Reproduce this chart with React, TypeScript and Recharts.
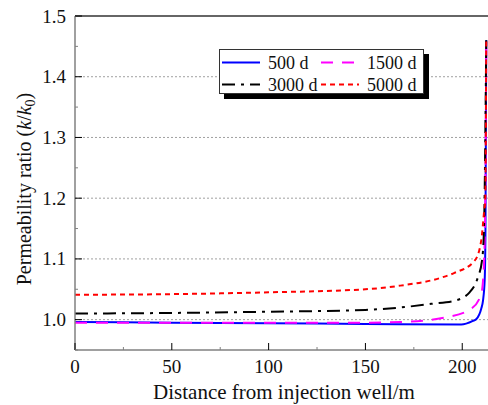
import React from "react";
import { LineChart, Line, XAxis, YAxis, ReferenceLine, Legend, Label } from "recharts";

// distance from injection well (m) -> k/k0
const d500 = [
  { x: 0, y: 0.996 }, { x: 50, y: 0.995 }, { x: 100, y: 0.994 }, { x: 150, y: 0.993 },
  { x: 199.5, y: 0.992 }, { x: 205.5, y: 0.998 }, { x: 207.3, y: 1.001 }, { x: 209.8, y: 1.018 },
  { x: 210.7, y: 1.031 }, { x: 211.6, y: 1.066 }, { x: 212.0, y: 1.15 }, { x: 212.4, y: 1.46 },
];
const d1500 = [
  { x: 0, y: 0.995 }, { x: 50, y: 0.995 }, { x: 100, y: 0.995 }, { x: 150, y: 0.995 },
  { x: 168, y: 0.996 }, { x: 192, y: 1.004 }, { x: 204.7, y: 1.018 }, { x: 209.8, y: 1.042 },
  { x: 211.2, y: 1.09 }, { x: 211.9, y: 1.2 }, { x: 212.4, y: 1.46 },
];
const d3000 = [
  { x: 0, y: 1.01 }, { x: 50, y: 1.011 }, { x: 100, y: 1.013 }, { x: 150, y: 1.016 },
  { x: 168, y: 1.02 }, { x: 184, y: 1.026 }, { x: 196, y: 1.031 }, { x: 203.8, y: 1.045 },
  { x: 208.1, y: 1.07 }, { x: 210.2, y: 1.097 }, { x: 211.2, y: 1.147 }, { x: 212.4, y: 1.46 },
];
const d5000 = [
  { x: 0, y: 1.041 }, { x: 50, y: 1.042 }, { x: 100, y: 1.045 }, { x: 150, y: 1.05 },
  { x: 168, y: 1.056 }, { x: 189, y: 1.069 }, { x: 196, y: 1.077 }, { x: 206.4, y: 1.097 },
  { x: 209.8, y: 1.13 }, { x: 211.2, y: 1.175 }, { x: 211.9, y: 1.2 }, { x: 212.4, y: 1.46 },
];

const xTicks = [0, 25, 50, 75, 100, 125, 150, 175, 200];
const xLabels = [0, 50, 100, 150, 200];
const yTicks = [0.95, 1.0, 1.05, 1.1, 1.15, 1.2, 1.25, 1.3, 1.35, 1.4, 1.45, 1.5];
const yLabels = ["1.0", "1.1", "1.2", "1.3", "1.4", "1.5"];
const gridLines = [1.0, 1.1, 1.2, 1.3, 1.4];

const series = [
  { name: "500 d", data: d500, color: "#0000ff", dash: undefined },
  { name: "1500 d", data: d1500, color: "#ff00ff", dash: "12 9" },
  { name: "3000 d", data: d3000, color: "#000000", dash: "13 6 3 6" },
  { name: "5000 d", data: d5000, color: "#ff0000", dash: "5 4" },
];

const FONT = "'Liberation Serif', 'Times New Roman', serif";
const AXIS = "#808080";

const XTick = (props: any) => {
  const { x, y, payload } = props;
  const major = xLabels.includes(payload.value);
  return (
    <g>
      <line x1={x} x2={x} y1={y} y2={y - (major ? 7 : 3)} stroke={major ? "#000" : AXIS} strokeWidth={1} />
      {major && (
        <text x={x} y={y + 23} textAnchor="middle" fontFamily={FONT} fontSize={19} fill="#111">
          {payload.value}
        </text>
      )}
    </g>
  );
};

const YTick = (props: any) => {
  const { x, y, payload } = props;
  const label = payload.value.toFixed(1);
  const major = Math.abs(payload.value * 10 - Math.round(payload.value * 10)) < 1e-6 && yLabels.includes(label);
  return (
    <g>
      <line x1={x} x2={x + (major ? 7 : 3)} y1={y} y2={y} stroke={major ? "#000" : AXIS} strokeWidth={1} />
      {major && (
        <text x={x - 9} y={y + 6.5} textAnchor="end" fontFamily={FONT} fontSize={19} fill="#111">
          {label}
        </text>
      )}
    </g>
  );
};

const renderLegend = () => (
  <div
    style={{
      width: 203,
      height: 43,
      border: "1.5px solid #333",
      background: "#fff",
      boxShadow: "5px 5px 0 #000",
    }}
  >
    <svg width={203} height={43} style={{ display: "block" }}>
      {series.map((s, i) => {
        const col = i % 2;
        const row = Math.floor(i / 2);
        const lx = col === 0 ? 2 : 101;
        const ly = row === 0 ? 12.5 : 34.5;
        return (
          <g key={s.name}>
            <line x1={lx} x2={lx + 38} y1={ly} y2={ly} stroke={s.color} strokeWidth={2} strokeDasharray={s.dash} />
            <text x={lx + 46} y={ly + 6} fontFamily={FONT} fontSize={18} fill="#111">
              {s.name}
            </text>
          </g>
        );
      })}
    </svg>
  </div>
);

const YTitle = () => {
  const cy = 189;
  const cx = 31;
  return (
    <text
      x={cx}
      y={cy}
      transform={`rotate(-90 ${cx} ${cy})`}
      textAnchor="middle"
      fontFamily={FONT}
      fontSize={20}
      fill="#111"
    >
      Permeability ratio (<tspan fontStyle="italic">k</tspan>/<tspan fontStyle="italic">k</tspan>
      <tspan fontSize={14} dy={4}>0</tspan>
      <tspan dy={-4}>)</tspan>
    </text>
  );
};

const XTitle = () => (
  <text x={284} y={399} textAnchor="middle" fontFamily={FONT} fontSize={21} fill="#111">
    Distance from injection well/m
  </text>
);

export default function App() {
  return (
    <div style={{ position: "absolute", left: 0, top: 0, background: "#fff" }}>
      <LineChart width={488} height={405} margin={{ top: 16, right: 0, left: 0, bottom: 0 }}>
        <XAxis
          type="number"
          dataKey="x"
          domain={[0, 213.3]}
          ticks={xTicks}
          interval={0}
          tickSize={0}
          tickMargin={0}
          tickLine={false}
          tick={<XTick />}
          height={55}
          axisLine={{ stroke: AXIS, strokeWidth: 1.5 }}
          allowDataOverflow
        >
          <Label content={<XTitle />} />
        </XAxis>
        <YAxis
          type="number"
          domain={[0.95, 1.5]}
          ticks={yTicks}
          interval={0}
          tickSize={0}
          tickMargin={0}
          tickLine={false}
          tick={<YTick />}
          width={75}
          axisLine={{ stroke: AXIS, strokeWidth: 1.5 }}
          allowDataOverflow
        >
          <Label content={<YTitle />} />
        </YAxis>
        {gridLines.map((g) => (
          <ReferenceLine key={g} y={g} stroke="#a0a0a0" strokeDasharray="2 2" strokeWidth={1} />
        ))}
        <ReferenceLine y={1.5} stroke="#333" strokeWidth={1.5} />
        {series.map((s) => (
          <Line
            key={s.name}
            data={s.data}
            dataKey="y"
            name={s.name}
            type="monotone"
            stroke={s.color}
            strokeWidth={2}
            strokeDasharray={s.dash}
            dot={false}
            isAnimationActive={false}
          />
        ))}
        <Legend
          layout="horizontal"
          verticalAlign="middle"
          align="center"
          content={renderLegend}
          wrapperStyle={{ left: 219, top: 49, width: 210 }}
        />
      </LineChart>
    </div>
  );
}
